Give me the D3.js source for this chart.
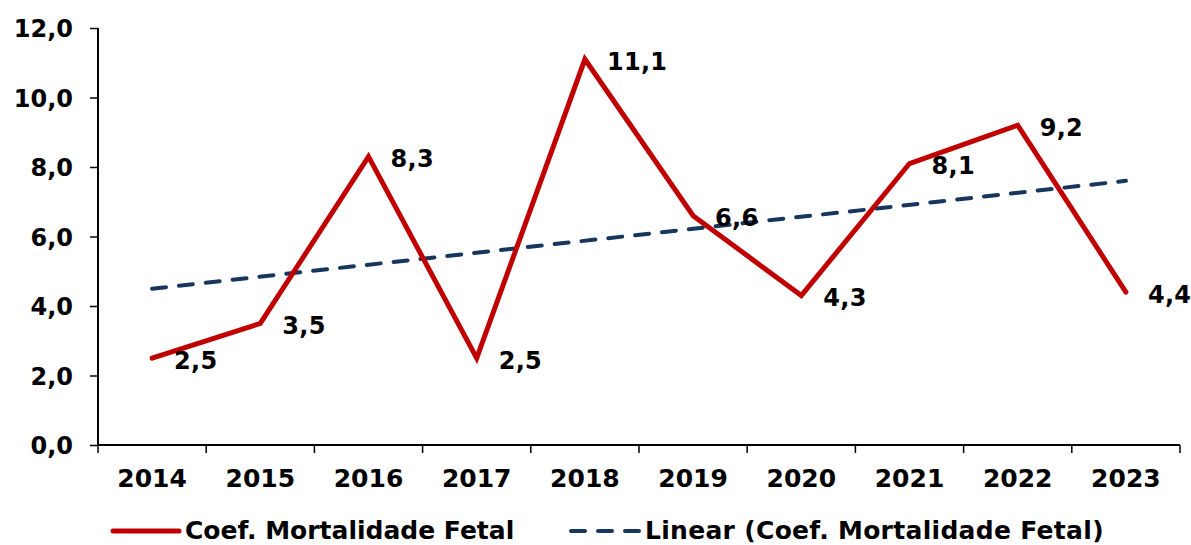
<!DOCTYPE html>
<html>
<head>
<meta charset="utf-8">
<script src="https://cdn.jsdelivr.net/npm/d3@7"></script>
<style>
  body { margin: 0; background: #fff; }
  svg text { font-family: "DejaVu Sans", Verdana, sans-serif; font-weight: bold; fill: #000; }
</style>
</head>
<body>
<script>
// chart values
var years = ["2014", "2015", "2016", "2017", "2018", "2019", "2020", "2021", "2022", "2023"];
var coefValues = [2.5, 3.5, 8.3, 2.5, 11.1, 6.6, 4.3, 8.1, 9.2, 4.4];
var yTicks = [0, 2, 4, 6, 8, 10, 12];
var seriesName = "Coef. Mortalidade Fetal";
var trendName = "Linear (Coef. Mortalidade Fetal)";

var width = 1191, height = 545;
var margin = {left: 98, right: 11, top: 28, bottom: 100};
var redColor = "#C00000";
var trendColor = "#17365D";
var fmt = function(v) { return d3.format(".1f")(v).replace(".", ","); };

var svg = d3.select("body").append("svg")
  .attr("width", width).attr("height", height);

var x = d3.scaleBand().domain(years)
  .range([margin.left, width - margin.right]);
var y = d3.scaleLinear().domain([0, 12])
  .range([445, margin.top]);

var cx = function(d, i) { return x(years[i]) + x.bandwidth() / 2; };

// X axis: ticks sit on category boundaries
var gx = svg.append("g").attr("transform", "translate(0,445)");
var bounds = years.map(function(d) { return x(d); }).concat([x.range()[1]]);
gx.selectAll("line.bt").data(bounds).enter().append("line")
  .attr("class", "bt")
  .attr("x1", function(d) { return d; }).attr("x2", function(d) { return d; })
  .attr("y1", 0).attr("y2", 8)
  .attr("stroke", "#000").attr("stroke-width", 1.5);
gx.append("line")
  .attr("x1", margin.left).attr("x2", x.range()[1])
  .attr("stroke", "#000").attr("stroke-width", 2);
gx.selectAll("text.yr").data(years).enter().append("text")
  .attr("class", "yr")
  .attr("x", function(d) { return x(d) + x.bandwidth() / 2; })
  .attr("y", 42)
  .attr("text-anchor", "middle")
  .style("font-size", "25px")
  .text(function(d) { return d; });

var yAxis = d3.axisLeft(y).tickValues(yTicks).tickSize(8).tickPadding(17).tickFormat(fmt);
var gy = svg.append("g").attr("transform", "translate(" + margin.left + ",0)").call(yAxis);
gy.select(".domain").attr("d", "M0,445V" + y(12)).attr("stroke", "#000").attr("stroke-width", 2);
gy.selectAll(".tick line").attr("stroke", "#000").attr("stroke-width", 1.5);
gy.selectAll(".tick text")
  .style("font-size", "24px")
  .attr("font-family", null)
  .attr("dy", "0.36em");

// Linear trend (least squares of the series)
var n = coefValues.length;
var mx = d3.mean(d3.range(n)), my = d3.mean(coefValues);
var sxy = d3.sum(coefValues, function(v, i) { return (i - mx) * (v - my); });
var sxx = d3.sum(d3.range(n), function(i) { return (i - mx) * (i - mx); });
var slope = sxy / sxx, intercept = my - slope * mx;
var trendEnds = [0, n - 1];

svg.append("line")
  .attr("x1", x(years[trendEnds[0]]) + x.bandwidth() / 2)
  .attr("y1", y(intercept + slope * trendEnds[0]))
  .attr("x2", x(years[trendEnds[1]]) + x.bandwidth() / 2)
  .attr("y2", y(intercept + slope * trendEnds[1]))
  .attr("stroke", trendColor)
  .attr("stroke-width", 4)
  .attr("stroke-linecap", "round")
  .attr("stroke-dasharray", "14,13");

// Series line
var line = d3.line()
  .x(function(d, i) { return cx(d, i); })
  .y(function(d) { return y(d); });

svg.append("path").datum(coefValues)
  .attr("d", line)
  .attr("fill", "none")
  .attr("stroke", redColor)
  .attr("stroke-width", 5)
  .attr("stroke-linecap", "round")
  .attr("stroke-linejoin", "miter");

// Data labels
svg.selectAll("text.lbl").data(coefValues).enter().append("text")
  .attr("class", "lbl")
  .attr("x", function(d, i) { return cx(d, i) + 22; })
  .attr("y", function(d) { return y(d) + 2; })
  .attr("dy", "0.36em")
  .style("font-size", "24px")
  .style("letter-spacing", "0.3px")
  .text(fmt);

// Legend
var legY = 530;
var leg1 = svg.append("g");
leg1.append("line").attr("x1", 113).attr("x2", 179).attr("y1", legY + 1).attr("y2", legY + 1)
  .attr("stroke", redColor).attr("stroke-width", 5).attr("stroke-linecap", "round");
leg1.append("text").attr("x", 185).attr("y", legY).attr("dy", "0.36em")
  .style("font-size", "25px").text(seriesName);

var leg2 = svg.append("g");
leg2.append("line").attr("x1", 571).attr("x2", 640).attr("y1", legY + 1).attr("y2", legY + 1)
  .attr("stroke", trendColor).attr("stroke-width", 4)
  .attr("stroke-linecap", "round")
  .attr("stroke-dasharray", "14,13");
leg2.append("text").attr("x", 645).attr("y", legY).attr("dy", "0.36em")
  .style("font-size", "25px").style("letter-spacing", "0.3px").text(trendName);
</script>
</body>
</html>
